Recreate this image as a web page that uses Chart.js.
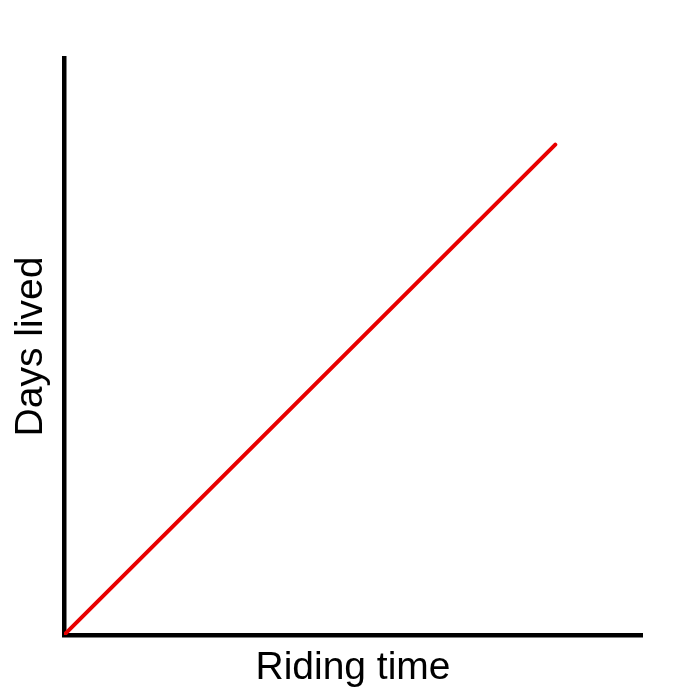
<!DOCTYPE html>
<html>
<head>
<meta charset="utf-8">
<style>
  html, body { margin: 0; padding: 0; background: #fff; }
  canvas { display: block; }
</style>
<script src="https://cdn.jsdelivr.net/npm/chart.js@4"></script>
</head>
<body>
<canvas id="lineChart" width="700" height="700"></canvas>
<script>
// values (arbitrary units, both axes 0..100)
var ridingTime = [0, 85];
var daysLived = [0, 85];
var xRange = [0, 100];
var yRange = [0, 100];

var points = ridingTime.map(function (x, i) {
  return { x: x, y: daysLived[i] };
});

var titleFont = { family: '"Liberation Sans", Arial, sans-serif', size: 39, lineHeight: 1 };

window.onload = function () {
  var ctx = document.getElementById('lineChart').getContext('2d');

  new Chart(ctx, {
    type: 'line',
    data: {
      datasets: [{
        data: points,
        borderColor: 'rgb(232,0,0)',
        borderWidth: 4,
        borderCapStyle: 'round',
        pointRadius: 0,
        fill: false,
        tension: 0
      }]
    },
    options: {
      responsive: false,
      animation: false,
      layout: { padding: { top: 58, right: 58, bottom: 0, left: 0 } },
      plugins: { legend: { display: false }, tooltip: { enabled: false } },
      scales: {
        x: {
          type: 'linear',
          min: xRange[0],
          max: xRange[1],
          grid: { display: false, drawTicks: false },
          ticks: { display: false },
          border: { display: true, color: '#000', width: 4.5 },
          title: {
            display: true,
            text: 'Riding time',
            color: '#000',
            font: titleFont,
            padding: { top: 13.5, bottom: 12.5 }
          }
        },
        y: {
          type: 'linear',
          min: yRange[0],
          max: yRange[1],
          grid: { display: false, drawTicks: false },
          ticks: { display: false },
          border: { display: true, color: '#000', width: 4.5 },
          title: {
            display: true,
            text: 'Days lived',
            color: '#000',
            font: titleFont,
            padding: { top: 12, bottom: 13 }
          }
        }
      }
    }
  });
};
</script>
</body>
</html>
